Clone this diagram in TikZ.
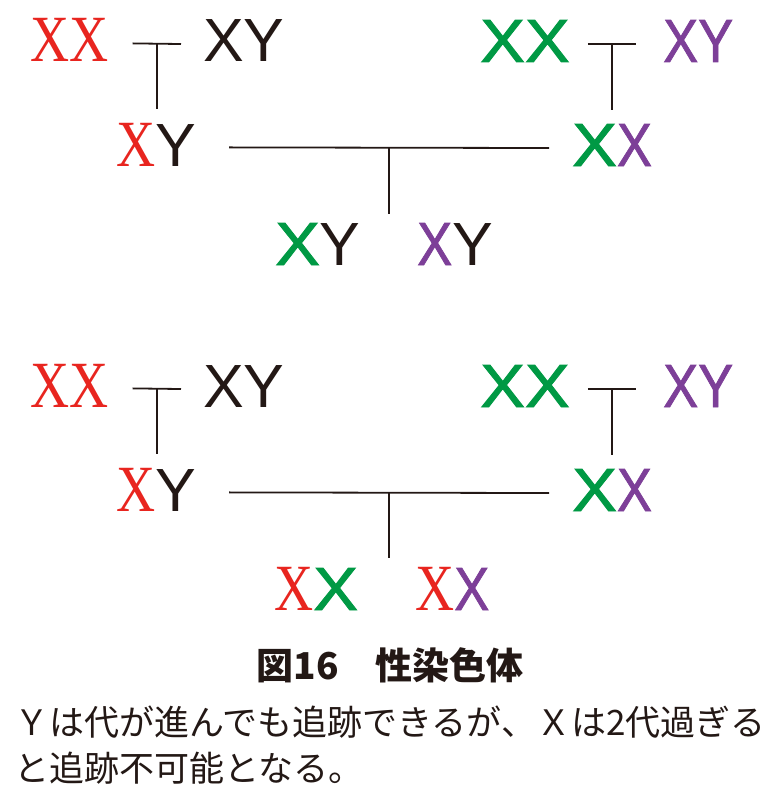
\documentclass[tikz,border=0pt]{standalone}
\usepackage{fontspec}
\usepackage{tikz}
\usetikzlibrary{positioning, calc}
\setmainfont{Liberation Sans}
\newfontfamily\serifx[FakeStretch=0.82]{Liberation Serif}
\newfontfamily\greenx[FakeStretch=1.1,FakeBold=1.6]{Liberation Sans}
\newfontfamily\purplex[FakeStretch=0.86,FakeBold=1.2]{Liberation Sans}
\newfontfamily\cjk{Noto Sans CJK JP}
\definecolor{ink}{HTML}{231815}
\definecolor{chrred}{HTML}{E8251F}
\definecolor{chrgreen}{HTML}{009944}
\definecolor{chrpurple}{HTML}{7D3F98}
% one letter per chromosome
\newcommand{\rX}{{\fontsize{66}{66}\serifx\color{chrred}X}}
\newcommand{\gX}{{\fontsize{61}{61}\greenx\color{chrgreen}X}}
\newcommand{\pX}{{\fontsize{61}{61}\purplex\color{chrpurple}X}}
\newcommand{\pY}{{\fontsize{61}{61}\purplex\color{chrpurple}Y}}
\newcommand{\kX}{{\fontsize{61}{61}\selectfont\color{ink}X}}
\newcommand{\kY}{{\fontsize{61}{61}\selectfont\color{ink}Y}}
\begin{document}
\begin{tikzpicture}[
      x=1pt, y=-1pt,
      chrom/.style={
        anchor=base west,
        inner sep=0pt,
      },
      link/.style={
        line width=1.8pt,
        draw=ink,
      },
      caption/.style={
        anchor=base west,
        inner sep=0pt,
        text=ink,
      },
      ]
      \useasboundingbox (0,0) rectangle (773,800);
      % upper pedigree: Y can be followed
      \node[chrom] (p1) at (30,62) {\rX\rX};
      \node[chrom] (p2) at (203,62) {\kX\kY};
      \node[chrom] (p3) at (480,62) {\gX\gX};
      \node[chrom] (p4) at (663,62) {\pX\pY};
      \node[chrom] (c1) at (116,166) {\rX\kY};
      \node[chrom] (c2) at (572,166) {\gX\pX};
      \node[chrom] (g1) at (275,265) {\gX\kY};
      \node[chrom] (g2) at (417,265) {\pX\kY};
      \draw[link] ([xshift=24pt,yshift=-3pt]p1.east) -- coordinate (m1) ([xshift=-22pt,yshift=-3pt]p2.west);
      \draw[link] ([xshift=18pt,yshift=-3pt]p3.east) -- coordinate (m2) ([xshift=-27pt,yshift=-3pt]p4.west);
      \draw[link,shorten >=14pt] (m1) -- (m1 |- c1.north);
      \draw[link,shorten >=14pt] (m2) -- (m2 |- c2.north);
      \draw[link] ([xshift=33pt,yshift=-3pt]c1.east) -- coordinate (m3) ([xshift=-23pt,yshift=-3pt]c2.west);
      \draw[link,shorten >=9pt] (m3) -- (m3 |- g1.north);
      % lower pedigree: X is lost after two generations
      \node[chrom] (q1) at (30,407) {\rX\rX};
      \node[chrom] (q2) at (203,407) {\kX\kY};
      \node[chrom] (q3) at (480,407) {\gX\gX};
      \node[chrom] (q4) at (663,407) {\pX\pY};
      \node[chrom] (d1) at (116,511) {\rX\kY};
      \node[chrom] (d2) at (572,511) {\gX\pX};
      \node[chrom] (h1) at (274,610) {\rX\gX};
      \node[chrom] (h2) at (415,610) {\rX\pX};
      \draw[link] ([xshift=24pt,yshift=-3pt]q1.east) -- coordinate (n1) ([xshift=-22pt,yshift=-3pt]q2.west);
      \draw[link] ([xshift=18pt,yshift=-3pt]q3.east) -- coordinate (n2) ([xshift=-27pt,yshift=-3pt]q4.west);
      \draw[link,shorten >=14pt] (n1) -- (n1 |- d1.north);
      \draw[link,shorten >=14pt] (n2) -- (n2 |- d2.north);
      \draw[link] ([xshift=33pt,yshift=-3pt]d1.east) -- coordinate (n3) ([xshift=-23pt,yshift=-3pt]d2.west);
      \draw[link,shorten >=9pt] (n3) -- (n3 |- h1.north);
      % caption
      \node[caption,anchor=base] (title) at (390,679) {\fontsize{37}{37}\cjk\bfseries 図16　性染色体};
      \node[caption] (line1) at (14,735) {\fontsize{35}{35}\cjk Ｙは代が進んでも追跡できるが、Ｘは2代過ぎる};
      \node[caption] (line2) at (14,781) {\fontsize{35}{35}\cjk と追跡不可能となる。};
    \end{tikzpicture}
\end{document}
